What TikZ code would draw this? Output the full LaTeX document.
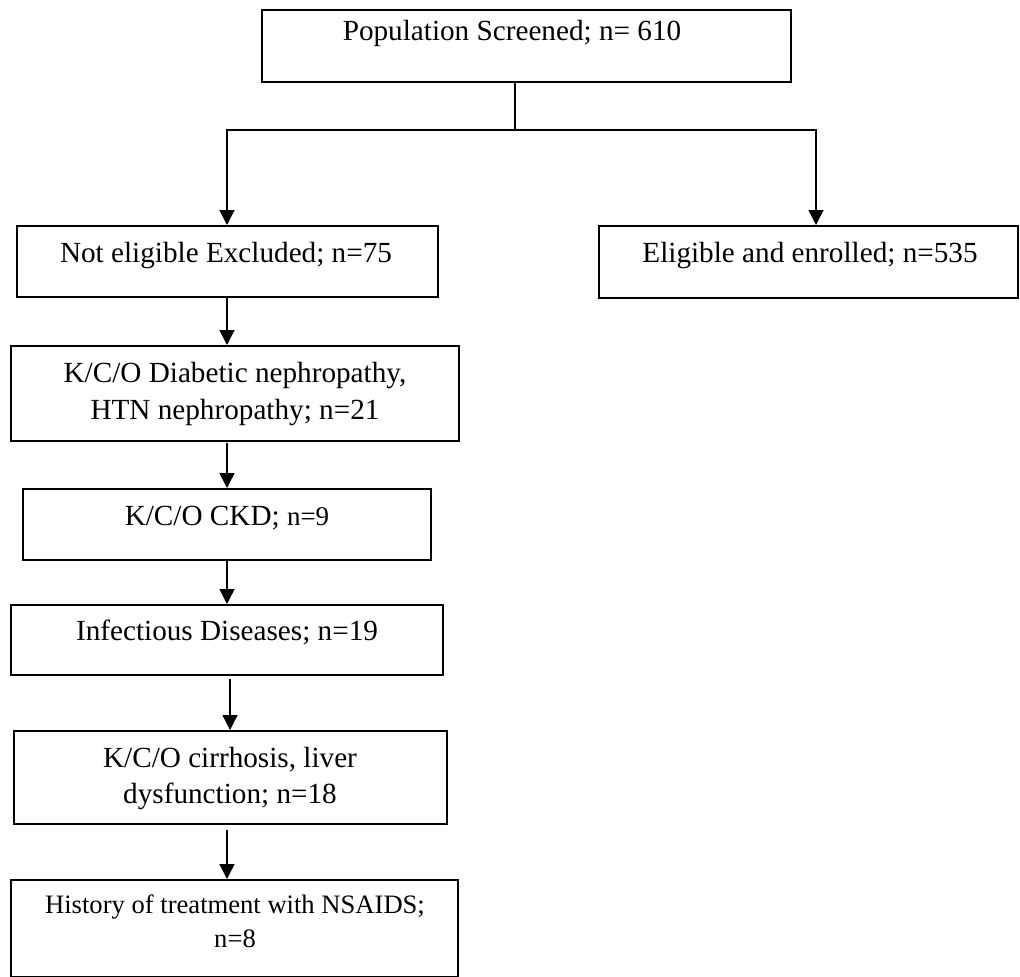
\documentclass[tikz,border=0pt]{standalone}
\usepackage{fontspec}
\setmainfont{Liberation Serif}
\usetikzlibrary{arrows.meta}
\begin{document}
\begin{tikzpicture}[x=1pt,y=-1pt,
  box/.style={draw=black,line width=2pt,rectangle,inner sep=0pt},
  txt/.style={anchor=base,inner sep=0pt,align=center,font=\fontsize{29.2}{37}\selectfont},
  smalltxt/.style={anchor=base,inner sep=0pt,align=center,font=\fontsize{26.6}{34}\selectfont},
  arr/.style={line width=1.4pt,-{Triangle[width=15pt,length=15pt]}},
  link/.style={line width=1.4pt}]
\useasboundingbox[fill=white] (0,0) rectangle (1020,977);
% boxes
\node[box,minimum width=529pt,minimum height=72pt] (top) at (526.5,46) {};
\node[box,minimum width=421pt,minimum height=71pt] (notel) at (227.5,261.5) {};
\node[box,minimum width=419pt,minimum height=72pt] (elig) at (808.5,262) {};
\node[box,minimum width=448pt,minimum height=95pt] (diab) at (235,393.5) {};
\node[box,minimum width=408pt,minimum height=71pt] (ckd) at (227,524.5) {};
\node[box,minimum width=432pt,minimum height=70pt] (inf) at (227,640) {};
\node[box,minimum width=433pt,minimum height=93pt] (cirr) at (230.5,777.5) {};
\node[box,minimum width=447pt,minimum height=97pt] (nsaid) at (234.5,928.5) {};
% texts
\node[txt] (ttop) at (512,40) {Population Screened; n= 610};
\node[txt] (tnotel) at (226,262) {Not eligible Excluded; n=75};
\node[txt] (telig) at (810,262) {Eligible and enrolled; n=535};
\node[txt] (tdiab1) at (235,382) {K/C/O Diabetic nephropathy,};
\node[txt] (tdiab2) at (235,419) {HTN nephropathy; n=21};
\node[txt] (tckd) at (227,525) {K/C/O CKD; {\fontsize{27}{34}\selectfont n=9}};
\node[txt] (tinf) at (227,640) {Infectious Diseases; n=19};
\node[txt] (tcirr1) at (230,767) {K/C/O cirrhosis, liver};
\node[txt] (tcirr2) at (230,803) {dysfunction; n=18};
\node[smalltxt] (tns1) at (235,913) {History of treatment with NSAIDS;};
\node[smalltxt] (tns2) at (235,947) {n=8};
% connectors
\coordinate (hl) at (227,130);
\coordinate (hr) at (816,130);
\coordinate (hm) at (515,130);
\coordinate (sx) at (227,0);
\coordinate (sx2) at (230,0);
\draw[link] (top.south -| hm) -- (hm);
\draw[arr] (hm) -- (hl) -- (notel.north -| hl);
\draw[arr] (hm) -- (hr) -- (elig.north -| hr);
\draw[arr] (notel.south -| sx) -- (diab.north -| sx);
\draw[arr,shorten <=1pt] (diab.south -| sx) -- (ckd.north -| sx);
\draw[arr] (ckd.south -| sx) -- (inf.north -| sx);
\draw[arr,shorten <=3pt] (inf.south -| sx2) -- (cirr.north -| sx2);
\draw[arr,shorten <=5pt] (cirr.south -| sx) -- (nsaid.north -| sx);
\end{tikzpicture}
\end{document}
